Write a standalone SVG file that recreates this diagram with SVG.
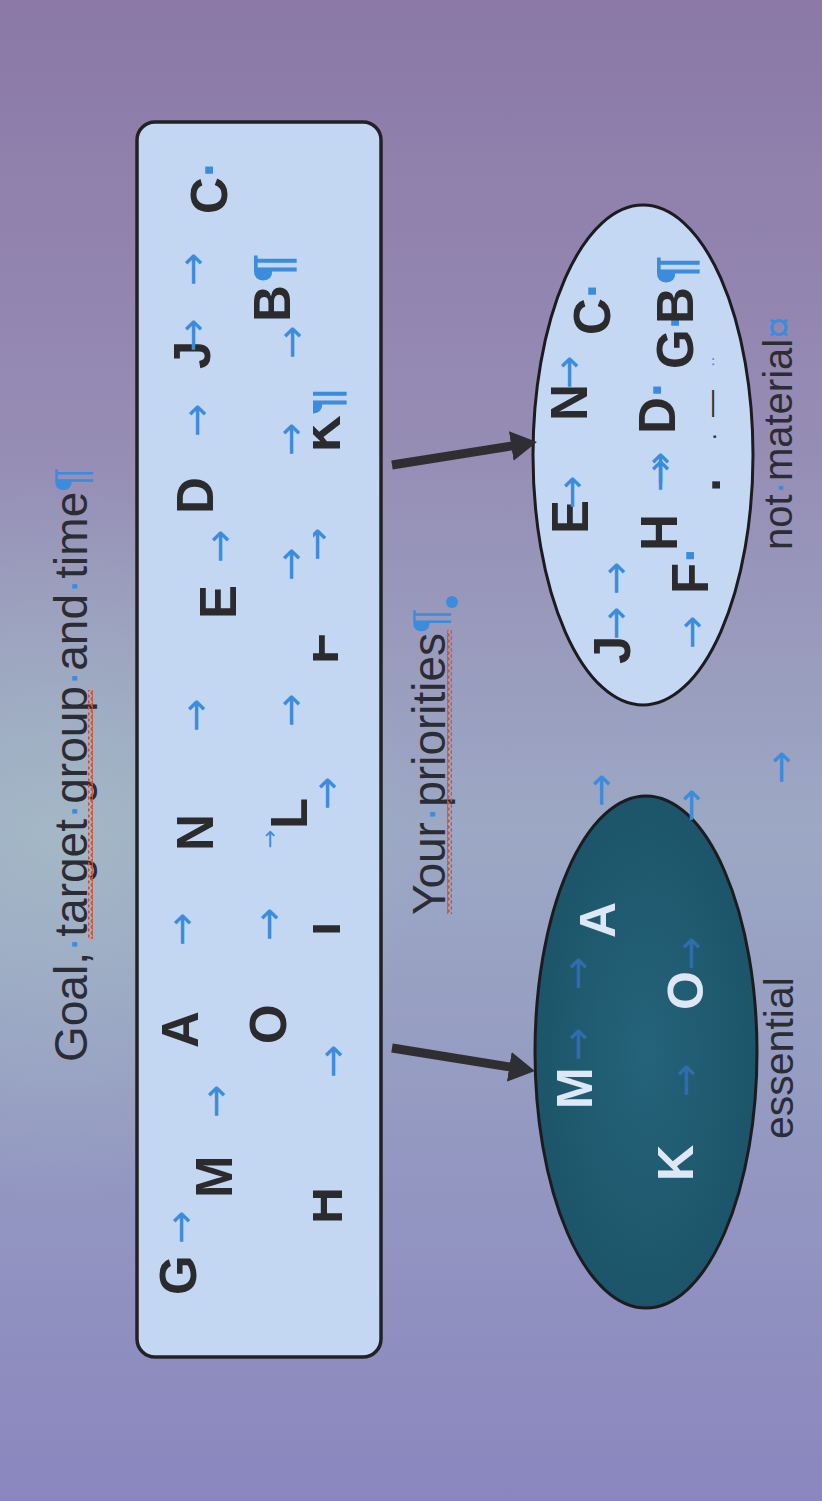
<svg xmlns="http://www.w3.org/2000/svg" width="822" height="1501" viewBox="0 0 822 1501">
<defs>
<style>
.t{font-family:"Liberation Sans",Arial,sans-serif}
.lbl{font-size:46px;fill:#2c2c34}
.b{font-family:"Liberation Sans",Arial,sans-serif;font-weight:bold;font-size:51px;fill:#2b2b2e}
.wb{font-family:"Liberation Sans",Arial,sans-serif;font-weight:bold;font-size:50px;fill:#dde7f5}
.fm{fill:#3b8cdc}
.tab{font-family:"DejaVu Sans",sans-serif;font-size:40px;fill:#3b8cdc;text-anchor:middle;dominant-baseline:central}
.dim{fill:#3570b8;fill-opacity:0.85}
.conn{stroke:#2f2f33;stroke-width:9;fill:none;marker-end:url(#head)}
</style>
<linearGradient id="bg" x1="0" y1="0" x2="0" y2="1">
<stop offset="0" stop-color="#8b78a7"/>
<stop offset="0.3" stop-color="#968db5"/>
<stop offset="0.55" stop-color="#9ca8c4"/>
<stop offset="0.78" stop-color="#9397c1"/>
<stop offset="1" stop-color="#8b86bf"/>
</linearGradient>
<radialGradient id="glow" cx="60" cy="840" r="360" gradientUnits="userSpaceOnUse">
<stop offset="0" stop-color="#a8c2c8" stop-opacity="0.6"/>
<stop offset="1" stop-color="#a8c2c8" stop-opacity="0"/>
</radialGradient>
<radialGradient id="teal" cx="0.5" cy="0.5" r="0.6">
<stop offset="0" stop-color="#24637a"/>
<stop offset="1" stop-color="#1b5266"/>
</radialGradient>
<pattern id="wavy" x="0" y="0" width="6" height="5" patternUnits="userSpaceOnUse">
<path d="M0,1 L3,4 L6,1" stroke="#d4522f" stroke-width="1.8" fill="none"/>
</pattern>
<marker id="head" viewBox="0 0 26 30" markerUnits="userSpaceOnUse" markerWidth="26" markerHeight="30" refX="6" refY="15" orient="auto">
<path d="M0,0 L26,15 L0,30 z" fill="#2f2f33"/>
</marker>
<clipPath id="row3"><rect x="144" y="313" width="1235" height="68"/></clipPath>
</defs>
<rect x="0" y="0" width="822" height="1501" fill="url(#bg)"/>
<rect x="0" y="0" width="822" height="1501" fill="url(#glow)"/>
<g transform="translate(0,1501) rotate(-90)">
<g id="title" class="t lbl">
<text x="439" y="87">Goal,<tspan class="fm">·</tspan>target<tspan class="fm">·</tspan>group<tspan class="fm">·</tspan>and<tspan class="fm">·</tspan>time<tspan class="fm">¶</tspan></text>
<rect x="0" y="88" width="249" height="5" fill="url(#wavy)" transform="translate(562,0)"/>
</g>
<g id="box">
<rect x="144" y="137" width="1235" height="244" rx="18" fill="#c3d7f3" stroke="#222226" stroke-width="3.5"/>
<text class="b" x="206" y="196">G</text>
<text class="b" x="303" y="232">M</text>
<text class="b" x="453" y="198">A</text>
<text class="b" x="650" y="213">N</text>
<text class="b" x="882" y="236">E</text>
<text class="b" x="987" y="213">D</text>
<text class="b" x="1132" y="210">J</text>
<text class="b" x="1287" y="227">C<tspan class="fm">·</tspan></text>
<text class="b" x="457" y="286">O</text>
<text class="b" x="672" y="307">L</text>
<text class="b" x="1179" y="290">B<tspan class="fm" dx="3">¶</tspan></text>
<g clip-path="url(#row3)">
<text class="b" x="277" y="342">H</text>
<text class="b" x="565" y="340">I</text>
<text class="b" x="837" y="338">F</text>
<text class="b" x="1049" y="340">K<tspan class="fm">¶</tspan></text>
<text class="tab" x="957" y="316">→</text>
</g>
<text class="tab" x="274" y="180">→</text>
<text class="tab" x="400" y="215">→</text>
<text class="tab" x="572" y="181">→</text>
<text class="tab" x="786" y="195">→</text>
<text class="tab" x="955" y="219">→</text>
<text class="tab" x="1081" y="196">→</text>
<text class="tab" x="1166" y="192">→</text>
<text class="tab" x="1232" y="192">→</text>
<text class="tab" x="577" y="268">→</text>
<text class="tab" x="791" y="290">→</text>
<text class="tab" x="937" y="290">→</text>
<text class="tab" x="1062" y="290">→</text>
<text class="tab" x="1159" y="291">→</text>
<text class="tab" x="662" y="269" style="font-size:22px">→</text>
<text class="tab" x="708" y="326">→</text>
<text class="tab" x="440" y="332">→</text>
</g>
<g id="priorities" class="t lbl">
<text x="586" y="445">Your<tspan class="fm">·</tspan>priorities<tspan class="fm">¶</tspan></text>
<rect x="0" y="447" width="284" height="5" fill="url(#wavy)" transform="translate(587,0)"/>
<circle cx="899" cy="452" r="6" fill="#3b8cdc"/>
</g>
<g id="essential">
<ellipse cx="449" cy="646" rx="256" ry="111" fill="url(#teal)" stroke="#1c1c20" stroke-width="3"/>
<text class="wb" x="392" y="592">M</text>
<text class="wb" x="563" y="615">A</text>
<text class="wb" x="491" y="703">O</text>
<text class="wb" x="320" y="693">K</text>
<text class="tab dim" x="457" y="577">→</text>
<text class="tab dim" x="528" y="577">→</text>
<text class="tab dim" x="548" y="690">→</text>
<text class="tab dim" x="421" y="685">→</text>
<text class="t" x="362" y="793" style="font-size:41px;fill:#2c2c34">essential</text>
</g>
<g id="notmaterial">
<ellipse cx="1046" cy="643" rx="250" ry="110" fill="#c4d8f4" stroke="#1c1c20" stroke-width="3"/>
<text class="b" x="837" y="630">J</text>
<text class="b" x="967" y="588">E</text>
<text class="b" x="1080" y="587">N</text>
<text class="b" x="1166" y="610">C<tspan class="fm">·</tspan></text>
<text class="b" x="907" y="708">F<tspan class="fm">·</tspan></text>
<text class="b" x="950" y="677">H</text>
<text class="b" x="1067" y="675">D<tspan class="fm">·</tspan></text>
<text class="b" x="1132" y="693">G<tspan class="fm">·</tspan></text>
<text class="b" x="1177" y="693">B<tspan class="fm" dx="3">¶</tspan></text>
<text class="b" x="1009" y="720">.</text>
<text class="t" x="1061" y="716" style="font-size:24px;fill:#2b2b2e">.</text>
<text class="t" x="1084" y="720" style="font-size:27px;fill:#2b2b2e">—</text>
<text class="t fm" x="1134" y="718" style="font-size:16px">··</text>
<text class="tab" x="878" y="615">→</text>
<text class="tab" x="923" y="615">→</text>
<text class="tab" x="1009" y="571">→</text>
<text class="tab" x="1129" y="568">→</text>
<text class="tab" x="869" y="691">→</text>
<text class="tab" x="1026" y="659">→</text>
<text class="tab" x="1033" y="659">→</text>
<text class="t" x="951" y="792" style="font-size:40px;fill:#2c2c34">not<tspan class="fm">·</tspan>material<tspan class="fm">¤</tspan></text>
</g>
<g id="loose-marks">
<text class="tab" x="711" y="600">→</text>
<text class="tab" x="696" y="690">→</text>
<text class="tab" x="734" y="780">→</text>
</g>
<g id="connectors">
<path class="conn" d="M1036,392 L1055.9,517.2"/>
<path class="conn" d="M453,392 L433.2,515.2"/>
</g>
</g>
</svg>
